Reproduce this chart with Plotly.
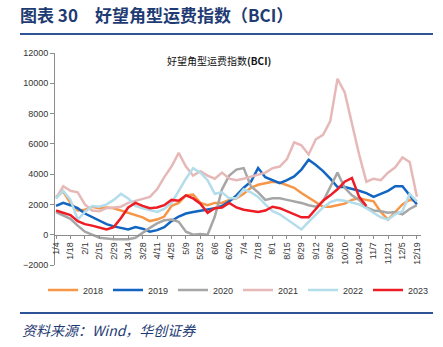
import plotly.graph_objects as go

W, H = 443, 347
ML, MR, MT, MB = 55, 22, 53, 82
PW, PH = W - ML - MR, H - MT - MB

# ---------------- data ----------------
tick_text = ["1/4", "1/18", "2/1", "2/15", "2/29", "3/14", "3/28", "4/11", "4/25",
             "5/9", "5/23", "6/6", "6/20", "7/4", "7/18", "8/1", "8/15", "8/29",
             "9/12", "9/26", "10/10", "10/24", "11/7", "11/21", "12/5", "12/19"]
tick_days = list(range(0, 351, 14))

days = list(range(0, 351, 7))  # weekly sample, day offset from 1/4

bci_2018 = [2500, 2850, 2100, 1600, 1650, 1850, 1750, 1800, 1750, 1600,
            1450, 1300, 1150, 900, 1000, 1200, 1900, 2100, 2600, 2650,
            2100, 1950, 2100, 2100, 2300, 2400, 2700, 3100, 3300, 3400,
            3500, 3450, 3300, 3100, 2750, 2450, 2150, 1850, 1850, 1950,
            2050, 2300, 2400, 2300, 2200, 1500, 1000, 1500, 2000, 2300, 2200]
bci_2019 = [1900, 2100, 1950, 1750, 1400, 1150, 900, 700, 550, 450,
            350, 500, 400, 200, 300, 500, 900, 1200, 1400, 1500,
            1600, 1650, 1750, 1900, 2200, 2600, 3100, 3500, 4400, 3800,
            3600, 3400, 3600, 3850, 4300, 4950, 4600, 4200, 3700, 3150,
            3150, 3050, 2900, 2750, 2500, 2700, 2900, 3200, 3200, 2600, 2000]
bci_2020 = [1500, 1300, 1050, 600, 200, 0, -200, -250, -300, -300,
            -300, -200, 150, 450, 750, 950, 1000, 850, 200, 0,
            50, 0, 1200, 3000, 3900, 4300, 4400, 3200, 2800, 2300,
            2400, 2400, 2300, 2200, 2100, 1950, 1850, 2200, 3100, 4100,
            3100, 2600, 2300, 1800, 1600, 1550, 1450, 1500, 1350, 1700, 1950]
bci_2021 = [2400, 3200, 2900, 2800, 2000, 1600, 1550, 1750, 1800, 1850,
            2100, 2250, 2350, 2500, 3000, 3800, 4500, 5400, 4500, 3900,
            4200, 3900, 3700, 4100, 3700, 3600, 3700, 3850, 4000, 4100,
            4400, 4500, 5000, 6100, 5900, 5300, 6300, 6600, 7500, 10300,
            9400, 7300, 5300, 3500, 3700, 3600, 4100, 4450, 5100, 4800, 2500]
bci_2022 = [2400, 2900, 2300, 1000, 1500, 1900, 1850, 2000, 2300, 2700,
            2400, 1900, 1750, 1650, 1500, 1700, 2100, 2900, 3700, 4400,
            4100, 3600, 2700, 2800, 2400, 2400, 3000, 2800, 2500, 2000,
            1550, 1350, 1000, 650, 350, 850, 1350, 1800, 2150, 2300,
            2250, 2100, 2000, 1750, 1450, 1150, 1000, 1350, 1550, 2700, 2200]
bci_2023 = [1600, 1450, 1300, 900, 700, 600, 450, 350, 500, 1100,
            1800, 2100, 1900, 1750, 1800, 1950, 2300, 2250, 2600, 2400,
            2050, 1450, 1750, 1800, 2100, 1800, 1650, 1600, 1500, 1600,
            1850, 1750, 1550, 1300, 1150, 1150, 1700, 2250, 2600, 3000,
            3500, 3750, 2500, 1900, None, None, None, None, None, None, None]

series = [("2018", bci_2018, "#F79646"),
          ("2019", bci_2019, "#1266C2"),
          ("2020", bci_2020, "#A6A6A6"),
          ("2021", bci_2021, "#E6B9B8"),
          ("2022", bci_2022, "#B3DDEA"),
          ("2023", bci_2023, "#EE1C25")]

# ---------------- figure ----------------
def px_x(p):
    return (p - ML) / PW

def px_y(p):
    return (H - MB - p) / PH

fig = go.Figure()
for name, vals, col in series:
    fig.add_trace(go.Scatter(x=days, y=vals, name=name, mode="lines",
                             line=dict(color=col, width=2.5),
                             connectgaps=False))

AX = "#8C8C8C"
TXT = "#333333"
NAVY = "#1F3B73"
RULE = "#2F5496"

fig.update_layout(
    width=W, height=H,
    margin=dict(l=ML, r=MR, t=MT, b=MB, pad=0),
    paper_bgcolor="white", plot_bgcolor="white",
    font=dict(family="Liberation Sans, Arial, sans-serif", size=9, color=TXT),
    showlegend=True,
    legend=dict(orientation="h", x=px_x(43), xanchor="left",
                y=px_y(290), yanchor="middle",
                font=dict(size=9, color=TXT), entrywidth=20,
                entrywidthmode="pixels", itemwidth=30,
                bgcolor="rgba(0,0,0,0)", traceorder="normal"),
    xaxis=dict(range=[-1, 354], tickvals=tick_days, ticktext=tick_text,
               tickangle=-90, showgrid=False, zeroline=False,
               showline=True, linecolor=AX, linewidth=1,
               ticks="outside", ticklen=3, tickcolor=AX,
               anchor="free", position=2000 / 14000,
               tickfont=dict(size=9, color=TXT)),
    yaxis=dict(range=[-2000, 12000], dtick=2000, tick0=0, tickformat="d",
               showgrid=False, zeroline=False,
               showline=True, linecolor=AX, linewidth=1,
               ticks="outside", ticklen=4, tickcolor=AX,
               tickfont=dict(size=9, color=TXT)),
    title=dict(text="<b>图表\u00a030\u3000好望角型运费指数（BCI）</b>",
               x=20 / W, xanchor="left", xref="container",
               y=1 - 16 / H, yanchor="middle", yref="container",
               font=dict(family="Noto Sans CJK SC", size=17, color=NAVY)),
)

fig.add_annotation(text="好望角型运费指数<b>(BCI)</b>", xref="paper", yref="paper",
                   x=px_x(219), y=px_y(60), xanchor="center", yanchor="middle",
                   showarrow=False,
                   font=dict(family="Noto Sans CJK SC", size=10, color="#111111"))

fig.add_annotation(text="<i>资料来源：Wind，华创证券</i>", xref="paper", yref="paper",
                   x=px_x(20), y=px_y(330), xanchor="left", yanchor="middle",
                   showarrow=False,
                   font=dict(family="Noto Sans CJK SC", size=14, color=NAVY))

for yy in (34, 313):
    fig.add_shape(type="line", xref="paper", yref="paper",
                  x0=px_x(20), x1=px_x(433), y0=px_y(yy), y1=px_y(yy),
                  line=dict(color=RULE, width=2))

fig.write_html("out.html")
